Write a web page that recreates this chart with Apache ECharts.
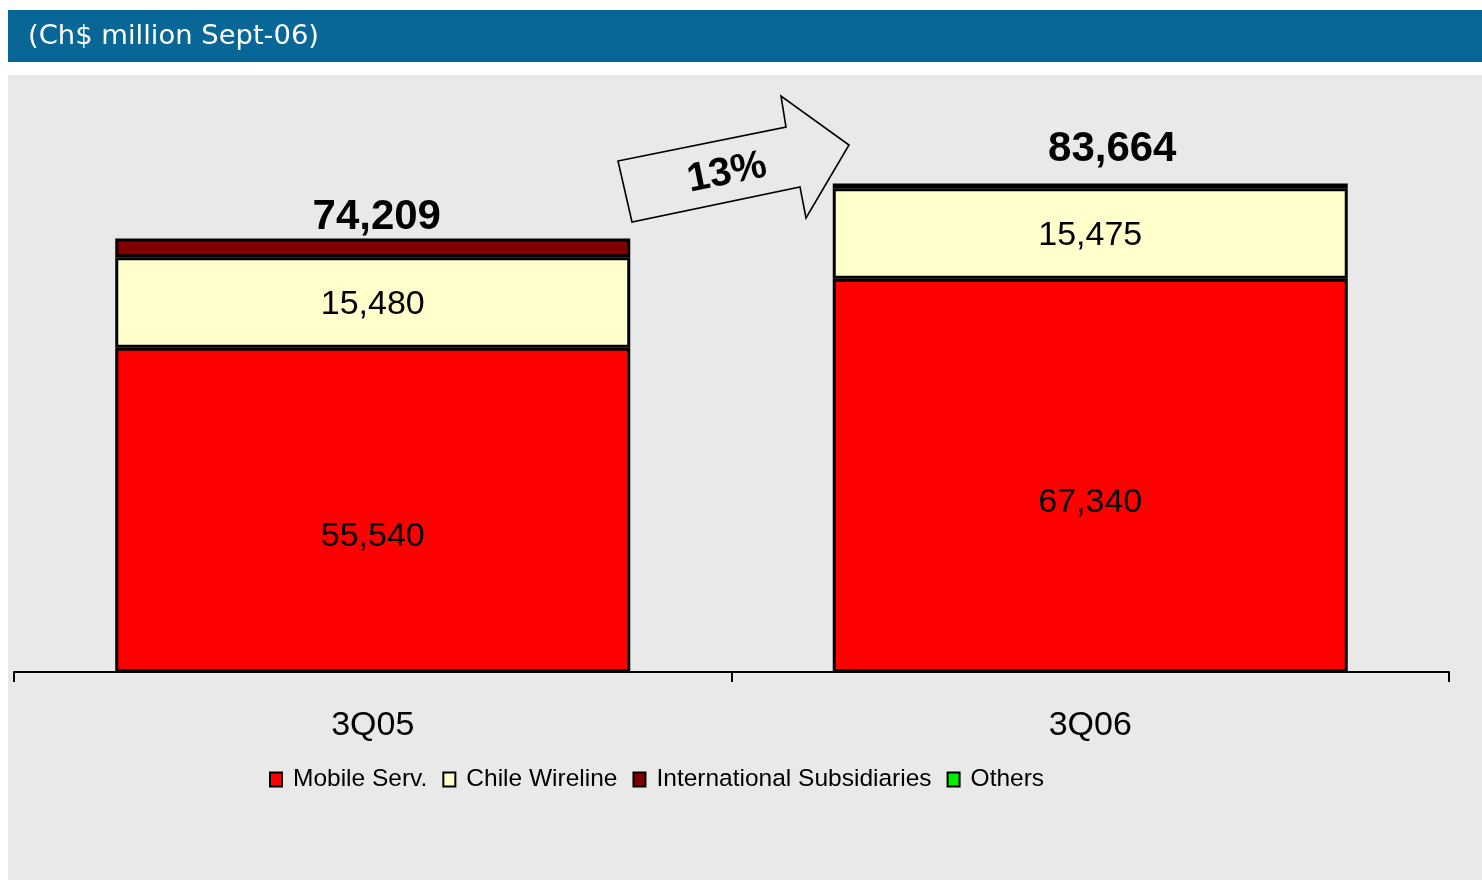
<!DOCTYPE html>
<html>
<head>
<meta charset="utf-8">
<script src="https://cdn.jsdelivr.net/npm/echarts@6/dist/echarts.min.js"></script>
<style>
  html, body { margin: 0; padding: 0; background: #ffffff; }
  #chart { width: 1482px; height: 880px; }
</style>
</head>
<body>
<div id="chart"></div>
<script>
// Revenue by business unit, Ch$ million
const periods = ['3Q05', '3Q06'];
const mobileServ = [55540, 67340];
const chileWireline = [15480, 15475];
const intlSubsidiaries = [3189, 849];
const others = [0, 0];
const totals = [74209, 83664];
const growthLabel = '13%';
const titleText = '(Ch$ million Sept-06)';

const fmt = v => v.toLocaleString('en-US');
const numFont = '"Liberation Sans", Arial, sans-serif';
const barBorder = { borderColor: '#000000', borderWidth: 3 };

const chart = echarts.init(document.getElementById('chart'));

chart.setOption({
  animation: false,
  backgroundColor: '#ffffff',
  graphic: [
    { type: 'rect', z: -10, shape: { x: 8, y: 75, width: 1474, height: 805 }, style: { fill: '#e9e9e9' } },
    { type: 'rect', z: -10, shape: { x: 8, y: 10, width: 1474, height: 52 }, style: { fill: '#086797' } },
    { type: 'text', x: 28, y: 37, style: { text: titleText, fill: '#ffffff', font: '27.4px "DejaVu Sans", sans-serif', verticalAlign: 'middle' } },
    {
      type: 'polygon', z: 5,
      shape: { points: [[618, 161], [786, 127], [781, 96], [849, 145], [806, 218], [800, 187], [632, 222]] },
      style: { fill: 'none', stroke: '#000000', lineWidth: 1.6 }
    },
    {
      type: 'text', z: 6, x: 727, y: 173, rotation: 0.2,
      style: { text: growthLabel, fill: '#000000', font: 'bold 40px ' + numFont, align: 'center', verticalAlign: 'middle' }
    }
  ],
  grid: { left: 14, right: 33, top: 88, bottom: 208, containLabel: false },
  legend: {
    data: ['Mobile Serv.', 'Chile Wireline', 'International Subsidiaries', 'Others'],
    left: 264, top: 762,
    icon: 'rect', itemWidth: 12, itemHeight: 14, itemGap: 15,
    itemStyle: { borderColor: '#000000', borderWidth: 2 },
    textStyle: { fontFamily: numFont, fontSize: 24.5, color: '#000000', padding: [0, 0, 0, 6] }
  },
  xAxis: {
    type: 'category',
    data: periods,
    axisLine: { lineStyle: { color: '#000000', width: 2 } },
    axisTick: { show: true, length: 10, lineStyle: { color: '#000000', width: 2 } },
    axisLabel: { margin: 37, fontFamily: numFont, fontSize: 34, color: '#000000' }
  },
  yAxis: { type: 'value', min: 0, max: 100000, show: false, splitLine: { show: false } },
  series: [
    {
      name: 'Mobile Serv.', type: 'bar', stack: 'rev', barWidth: 515,
      itemStyle: Object.assign({ color: '#ff0000' }, barBorder),
      label: { show: true, position: 'inside', offset: [0, 27], fontFamily: numFont, fontSize: 34, color: '#000000', formatter: p => fmt(p.value) },
      data: mobileServ
    },
    {
      name: 'Chile Wireline', type: 'bar', stack: 'rev',
      itemStyle: Object.assign({ color: '#ffffcc' }, barBorder),
      label: { show: true, position: 'inside', offset: [0, 2], fontFamily: numFont, fontSize: 34, color: '#000000', formatter: p => fmt(p.value) },
      data: chileWireline
    },
    {
      name: 'International Subsidiaries', type: 'bar', stack: 'rev',
      itemStyle: Object.assign({ color: '#800000' }, barBorder),
      data: intlSubsidiaries
    },
    {
      name: 'Others', type: 'bar', stack: 'rev',
      itemStyle: { color: '#00ee00', borderColor: '#000000', borderWidth: 0 },
      data: others
    },
    {
      name: 'Total', type: 'scatter', symbolSize: 0, z: 10,
      itemStyle: { opacity: 1 },
      label: {
        show: true, position: 'top', fontFamily: numFont, fontWeight: 'bold', fontSize: 42, color: '#000000',
        formatter: p => fmt(p.value)
      },
      data: [
        { value: totals[0], label: { offset: [4, 5] } },
        { value: totals[1], label: { offset: [22, -8] } }
      ]
    }
  ]
});
</script>
</body>
</html>
